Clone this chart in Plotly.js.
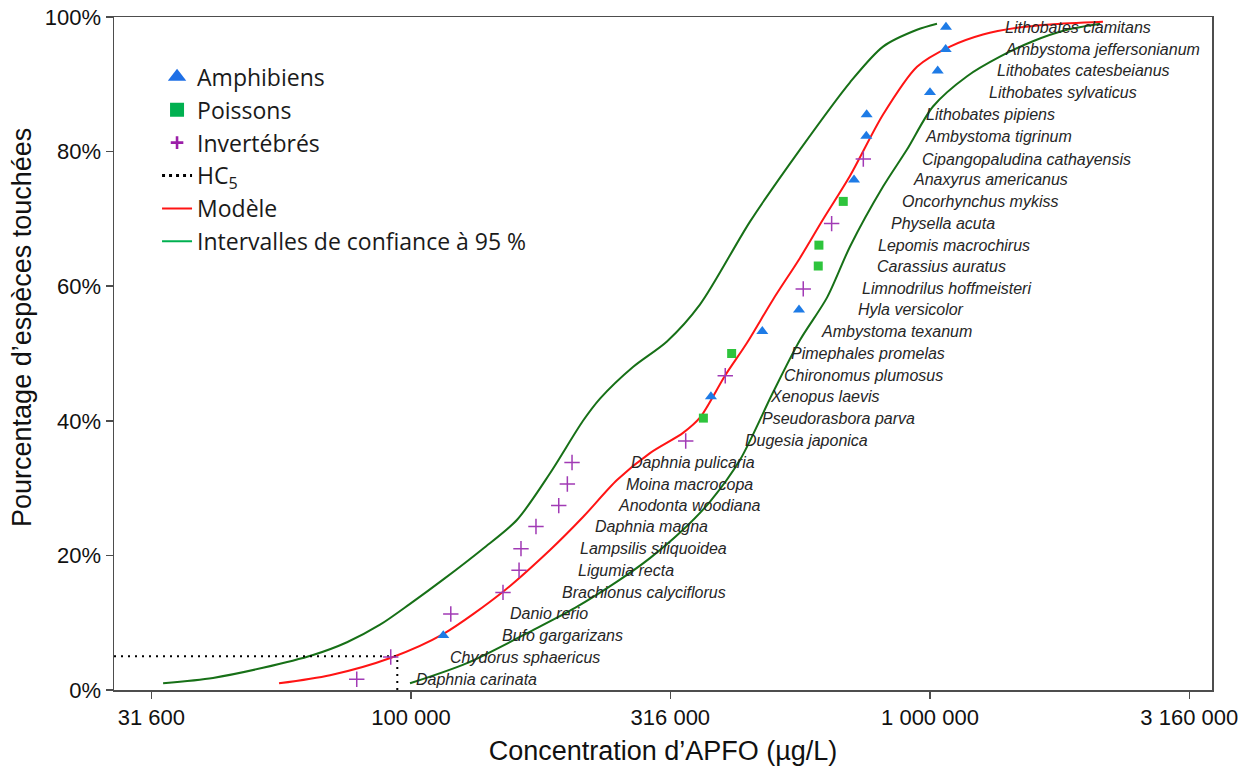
<!DOCTYPE html>
<html><head><meta charset="utf-8">
<script src="https://cdn.plot.ly/plotly-3.0.1.min.js"></script>
<style>html,body{margin:0;padding:0;background:#fff}#chart{width:1250px;height:769px}</style>
</head><body><div id="chart"></div>
<script>
// ---- Data ----
const species = [
  'Daphnia carinata','Chydorus sphaericus','Bufo gargarizans','Danio rerio','Brachionus calyciflorus',
  'Ligumia recta','Lampsilis siliquoidea','Daphnia magna','Anodonta woodiana','Moina macrocopa',
  'Daphnia pulicaria','Dugesia japonica','Pseudorasbora parva','Xenopus laevis','Chironomus plumosus',
  'Pimephales promelas','Ambystoma texanum','Hyla versicolor','Limnodrilus hoffmeisteri','Carassius auratus',
  'Lepomis macrochirus','Physella acuta','Oncorhynchus mykiss','Anaxyrus americanus','Cipangopaludina cathayensis',
  'Ambystoma tigrinum','Lithobates pipiens','Lithobates sylvaticus','Lithobates catesbeianus','Ambystoma jeffersonianum',
  'Lithobates clamitans'
];
const concentrations = [
  78600, 91400, 115400, 119300, 150400,
  161500, 162900, 174100, 192600, 200100,
  204300, 338300, 365900, 378400, 403200,
  414800, 475200, 559300, 569900, 609100,
  610900, 646400, 680600, 713900, 743900,
  753900, 755100, 1000000, 1034700, 1072000,
  1073500
];
const percentages = [
  1.6, 4.9, 8.1, 11.3, 14.5,
  17.8, 21.0, 24.3, 27.4, 30.6,
  33.8, 37.0, 40.4, 43.6, 46.7,
  50.0, 53.3, 56.5, 59.6, 63.0,
  66.1, 69.3, 72.6, 75.8, 78.9,
  82.3, 85.5, 88.8, 92.0, 95.2,
  98.5
];
const groups = [
  'Invertébrés','Invertébrés','Amphibiens','Invertébrés','Invertébrés',
  'Invertébrés','Invertébrés','Invertébrés','Invertébrés','Invertébrés',
  'Invertébrés','Invertébrés','Poissons','Amphibiens','Invertébrés',
  'Poissons','Amphibiens','Amphibiens','Invertébrés','Poissons',
  'Poissons','Invertébrés','Poissons','Amphibiens','Invertébrés',
  'Amphibiens','Amphibiens','Amphibiens','Amphibiens','Amphibiens',
  'Amphibiens'
];

// Fitted model (red)
const modelX = [55680, 69830, 91520, 115270, 150400, 185300, 214500, 249400, 288700, 334300, 360600,
  402700, 444100, 498200, 561700, 622000, 701400, 812100, 944100, 1092700, 1265000, 1471000, 1702000, 2154000];
const modelY = [1.0, 2.2, 4.8, 8.3, 14.6, 20.8, 25.7, 31.2, 35.2, 38.2, 40.5,
  46.7, 51.6, 58.0, 64.2, 69.9, 76.4, 85.5, 92.6, 95.6, 97.4, 98.4, 98.9, 99.3];

// 95% confidence interval, lower concentration bound (left green)
const ciLowX = [33290, 41540, 51850, 64740, 75280, 87160, 99560, 115270, 137600, 160100, 185300,
  214500, 231300, 267700, 311300, 360600, 450000, 561700, 701400, 812100, 944100, 1031500];
const ciLowY = [1.0, 1.8, 3.3, 5.2, 7.1, 9.7, 12.8, 16.4, 21.0, 25.3, 32.2,
  40.0, 43.3, 48.0, 51.8, 57.3, 69.6, 80.3, 90.3, 95.6, 98.1, 99.0];

// 95% confidence interval, upper concentration bound (right green)
const ciHighX = [99560, 128200, 171800, 207000, 249400, 288700, 334300, 376900, 430500, 498200, 561700,
  633200, 701400, 812100, 903000, 1013400, 1179000, 1364000, 1579000, 1837000, 2127000];
const ciHighY = [1.0, 4.0, 8.9, 12.2, 16.1, 19.6, 23.8, 28.0, 34.2, 44.2, 52.0,
  58.3, 65.9, 74.8, 80.3, 86.7, 91.2, 94.1, 96.4, 98.1, 99.0];

// HC5
const hc5Value = 94100;
const hc5Percent = 5;

// Axes
const xTickVals = [31600, 100000, 316000, 1000000, 3160000];
const xTickText = ['31 600', '100 000', '316 000', '1 000 000', '3 160 000'];
const yTickVals = [0, 20, 40, 60, 80, 100];
const yTickText = ['0%', '20%', '40%', '60%', '80%', '100%'];
const xRangeLog = [4.4277, 6.5434];

// ---- Styles ----
const groupStyles = {
  'Amphibiens': {symbol: 'triangle-up', size: 10.5, color: '#1E7BE6', line: {width: 0}},
  'Poissons': {symbol: 'square', size: 9, color: '#2EC43C', line: {width: 0}},
  'Invertébrés': {symbol: 'cross-thin', size: 11, color: '#A13AB5', line: {width: 1.5, color: '#A13AB5'}}
};
const legendStyles = {
  'Amphibiens': {symbol: 'triangle-up', size: 16, color: '#1E6FE6', line: {width: 0}},
  'Poissons': {symbol: 'square', size: 14, color: '#00B050', line: {width: 0}},
  'Invertébrés': {symbol: 'cross-thin', size: 9, color: '#9B1FA8', line: {width: 2.6, color: '#9B1FA8'}}
};
const darkGreen = '#177017';
const red = '#FF1414';
const labelFont = 'Liberation Sans, Arial, sans-serif';

const traces = [];
// curves
traces.push({x: ciLowX, y: ciLowY, mode: 'lines', line: {color: darkGreen, width: 2, shape: 'spline', smoothing: 0.8}, showlegend: false, hoverinfo: 'skip'});
traces.push({x: ciHighX, y: ciHighY, mode: 'lines', line: {color: darkGreen, width: 2, shape: 'spline', smoothing: 0.8}, showlegend: false, hoverinfo: 'skip'});
traces.push({x: modelX, y: modelY, mode: 'lines', line: {color: red, width: 2, shape: 'spline', smoothing: 0.8}, showlegend: false, hoverinfo: 'skip'});
// HC5 dotted guide
const xAxisMin = Math.pow(10, xRangeLog[0]);
traces.push({x: [xAxisMin, hc5Value, hc5Value], y: [hc5Percent, hc5Percent, 0], mode: 'lines',
  line: {color: '#000', width: 2, dash: '2px,5px'}, showlegend: false, hoverinfo: 'skip'});

// points by group
['Invertébrés', 'Poissons', 'Amphibiens'].forEach(g => {
  const xs = [], ys = [];
  groups.forEach((gg, i) => { if (gg === g) { xs.push(concentrations[i]); ys.push(percentages[i]); } });
  traces.push({x: xs, y: ys, mode: 'markers', marker: groupStyles[g], showlegend: false, name: g});
});

// legend-only entries
const legendOrder = ['Amphibiens', 'Poissons', 'Invertébrés'];
legendOrder.forEach((g, k) => {
  traces.push({x: [null], y: [null], mode: 'markers', marker: legendStyles[g], name: g, legendgroup: 'l' + k, showlegend: true});
});
traces.push({x: [null], y: [null], mode: 'lines', line: {color: '#000', width: 3, dash: '3px,4px'}, name: 'HC<sub>5</sub>', legendgroup: 'l3', showlegend: true});
traces.push({x: [null], y: [null], mode: 'lines', line: {color: red, width: 2}, name: 'Modèle', legendgroup: 'l4', showlegend: true});
traces.push({x: [null], y: [null], mode: 'lines', line: {color: '#00B050', width: 2}, name: 'Intervalles de confiance à 95 %', legendgroup: 'l5', showlegend: true});

// species labels
const annotations = species.map((s, i) => ({
  x: Math.log10(concentrations[i]), y: percentages[i], xref: 'x', yref: 'y',
  text: s, showarrow: false, xanchor: 'left', yanchor: 'middle', xshift: 57,
  font: {family: labelFont, size: 16, color: '#262626', style: 'italic'}
}));
// y-axis title (placed as in the reference, slightly above the plot centre)
annotations.push({
  xref: 'paper', yref: 'paper', x: -0.0838, y: 0.5394, xanchor: 'center', yanchor: 'middle',
  textangle: -90, showarrow: false, text: 'Pourcentage d’espèces touchées',
  font: {family: labelFont, size: 27, color: '#111'}
});

const axisCommon = {
  showline: true, linecolor: '#4d4d4d', linewidth: 1.5, mirror: true,
  ticks: 'outside', ticklen: 7, tickwidth: 1.5, tickcolor: '#4d4d4d',
  showgrid: false, zeroline: false, automargin: false,
  tickfont: {family: labelFont, size: 22, color: '#111'}
};

const layout = {
  width: 1250, height: 769,
  margin: {l: 114, r: 38, t: 17, b: 79},
  paper_bgcolor: '#fff', plot_bgcolor: '#fff',
  xaxis: Object.assign({}, axisCommon, {
    type: 'log', range: xRangeLog, tickvals: xTickVals, ticktext: xTickText,
    title: {text: 'Concentration d’APFO (µg/L)', standoff: 12,
      font: {family: labelFont, size: 27, color: '#111'}}
  }),
  yaxis: Object.assign({}, axisCommon, {
    range: [0, 100], tickvals: yTickVals, ticktext: yTickText
  }),
  legend: {x: 0.0392, y: 0.943, xanchor: 'left', yanchor: 'top', bgcolor: 'rgba(0,0,0,0)',
    font: {family: 'Open Sans, sans-serif', size: 23, color: '#1a1a1a'},
    tracegroupgap: 0, itemsizing: 'trace'},
  annotations: annotations,
  showlegend: true
};

Plotly.newPlot('chart', traces, layout, {displayModeBar: false, staticPlot: true});
</script>
</body></html>
